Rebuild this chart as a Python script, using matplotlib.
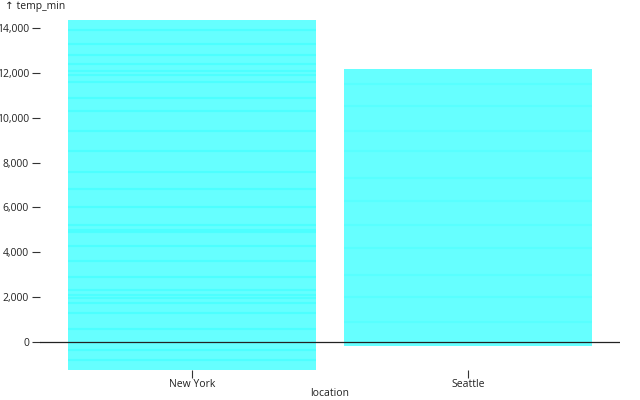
import matplotlib
matplotlib.use("Agg")
import matplotlib.pyplot as plt
import numpy as np

plt.rcParams['font.family'] = ['Open Sans', 'DejaVu Sans']

locations = ["New York", "Seattle"]
# stacked daily temp_min sums, approximated as bands
ny_pos = [600, 700, 450, 200, 150, 200, 600, 700, 700, 600, 100, 200, 800, 800,
          800, 900, 900, 900, 600, 700, 300, 200, 300, 400, 500, 600, 456]
ny_neg = [-350, -450, -448]
sea_pos = [900, 1100, 1000, 1200, 1000, 1100, 1000, 1200, 900, 1100, 1000, 671]
sea_neg = [-178]

y_ticks = [0, 2000, 4000, 6000, 8000, 10000, 12000, 14000]

fig = plt.figure(figsize=(6.4, 4.0), dpi=100)
ax = fig.add_axes([40/640, 30/400, 580/640, 350/400])

fill = '#66ffff'
stripe = '#30ffff'
width = 0.9

def stack(xi, pos, neg, alpha):
    for vals in (pos, neg):
        b = 0
        bounds = []
        for v in vals:
            ax.bar(xi, v, bottom=b, width=width, color=fill, edgecolor='none', linewidth=0)
            b += v
            bounds.append(b)
        ax.hlines(bounds[:-1], xi - width / 2, xi + width / 2, colors=stripe,
                  linewidth=1.6, alpha=alpha, zorder=3)

stack(0, ny_pos, ny_neg, 0.45)
stack(1, sea_pos, sea_neg, 0.25)

ax.set_xlim(-0.55, 1.55)
ax.set_ylim(-1248, 14356)
ax.axhline(0, color='#222222', linewidth=0.9, zorder=5)

for s in ax.spines.values():
    s.set_visible(False)

ax.set_yticks(y_ticks)
ax.set_yticklabels([f"{t:,}" for t in y_ticks])
ax.set_xticks([0, 1])
ax.set_xticklabels(locations)
ax.tick_params(axis='y', length=6, width=0.8, color='#333333', labelsize=7.5, pad=2, labelcolor='#222222')
ax.tick_params(axis='x', length=6, width=0.8, color='#333333', labelsize=7.5, pad=0.5, labelcolor='#222222')

fig.text(5/640, 1 - 7/400, "↑ temp_min", fontsize=7.5, va='center', ha='left', color='#222222')
fig.text(330/640, 1 - 393/400, "location", fontsize=7.5, va='center', ha='center', color='#222222')

fig.savefig("out.png", dpi=100)
